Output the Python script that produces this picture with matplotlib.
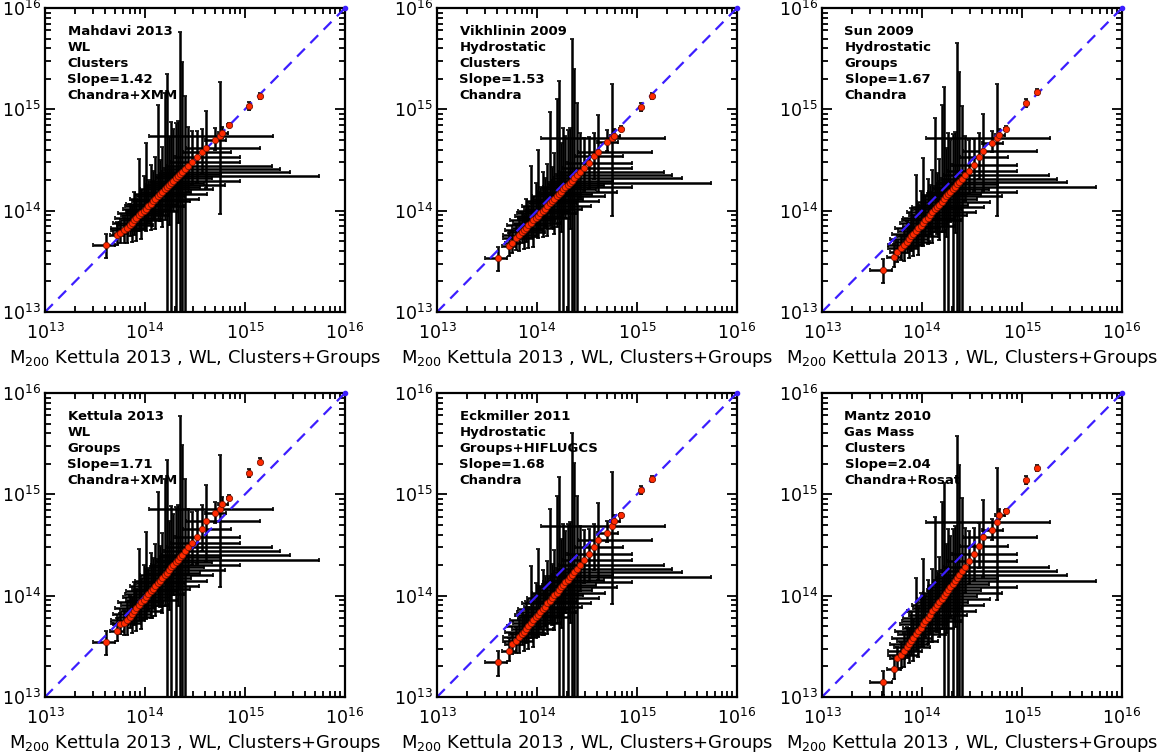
import numpy as np
import matplotlib
matplotlib.use("Agg")
import matplotlib.pyplot as plt
from matplotlib.ticker import LogLocator, LogFormatterMathtext, NullFormatter

# Kettula 2013 WL masses (units of 1e14 Msun), shared by every panel
m_wl = [0.41, 0.52, 0.56,
        0.62, 0.66, 0.70, 0.74, 0.78, 0.82, 0.87, 0.92, 0.97, 1.02,
        1.08, 1.14, 1.20, 1.27, 1.34, 1.41, 1.49, 1.57, 1.65, 1.74,
        1.83, 1.92, 2.02, 2.12, 2.23, 2.35, 2.50, 2.70, 2.95, 3.30,
        3.70, 4.10, 5.00, 5.60, 5.90, 6.90, 11.0, 14.0]
m_wl_lo = [0.11, 0.07, 0.08,
           0.16, 0.20, 0.18, 0.26, 0.22, 0.32, 0.30, 0.38, 0.33, 0.42,
           0.45, 0.50, 0.46, 0.56, 0.52, 0.62, 0.58, 0.68, 0.62, 0.72,
           0.70, 0.78, 0.74, 0.80, 0.85, 0.86, 0.95, 1.05, 1.15, 1.30,
           1.30, 1.50, 1.00, 4.50, 0.50, 0.30, 0.20, 0.20]
m_wl_hi = [0.09, 0.10, 0.12,
           0.30, 0.35, 0.50, 0.40, 0.65, 0.45, 0.85, 0.60, 1.10, 0.75,
           1.40, 0.95, 1.60, 2.20, 1.20, 2.80, 1.40, 3.20, 1.90, 4.50,
           2.10, 7.00, 2.70, 53.0, 3.50, 26.0, 20.0, 16.0, 6.00, 5.70,
           3.50, 10.0, 1.50, 13.4, 0.80, 0.30, 0.20, 0.20]
# relative y uncertainties (lower, upper)
yrel_lo = [0.26, 0.20, 0.20,
           0.25, 0.30, 0.22, 0.35, 0.28, 0.40, 0.30, 0.45, 0.35, 0.40,
           0.30, 0.45, 0.35, 0.50, 0.40, 0.45, 0.55, 0.50, 0.97, 0.60,
           0.97, 0.50, 0.97, 0.65, 0.97, 0.97, 0.97, 0.45, 0.40, 0.45,
           0.40, 0.60, 0.20, 0.83, 0.10, 0.05, 0.08, 0.06]
yrel_hi = [0.28, 0.35, 0.30,
           0.35, 0.50, 0.60, 0.45, 0.90, 0.55, 2.60, 0.70, 1.20, 3.40,
           0.80, 1.40, 1.00, 1.60, 7.00, 1.20, 1.80, 8.00, 12.0, 2.00,
           3.00, 2.20, 2.50, 2.50, 24.0, 11.0, 4.20, 1.40, 1.00, 0.80,
           0.70, 1.30, 0.30, 2.40, 0.15, 0.05, 0.10, 0.08]

# predicted masses from each scaling relation (units of 1e14 Msun)
m_mahdavi = [0.46, 0.57, 0.60,
             0.64, 0.68, 0.72, 0.76, 0.80, 0.84, 0.90, 0.95, 1.00, 1.05,
             1.11, 1.17, 1.24, 1.31, 1.38, 1.45, 1.53, 1.62, 1.70, 1.79,
             1.88, 1.98, 2.08, 2.18, 2.30, 2.42, 2.58, 2.78, 3.04, 3.40,
             3.80, 4.20, 5.00, 5.50, 5.80, 7.00, 10.7, 13.5]
m_vikhlinin = [0.345, 0.45, 0.48,
               0.54, 0.57, 0.61, 0.645, 0.68, 0.72, 0.76, 0.805, 0.85, 0.895,
               0.95, 1.00, 1.05, 1.12, 1.18, 1.24, 1.31, 1.39, 1.46, 1.54,
               1.62, 1.70, 1.79, 1.88, 1.98, 2.09, 2.23, 2.41, 2.63, 2.96,
               3.45, 3.80, 4.80, 5.25, 5.50, 6.45, 10.5, 13.5]
m_sun = [0.26, 0.35, 0.39,
         0.43, 0.46, 0.49, 0.525, 0.56, 0.59, 0.63, 0.67, 0.71, 0.755,
         0.80, 0.855, 0.905, 0.965, 1.03, 1.08, 1.15, 1.22, 1.29, 1.38,
         1.45, 1.54, 1.63, 1.72, 1.82, 1.93, 2.07, 2.25, 2.49, 2.83,
         3.40, 3.90, 4.70, 5.25, 5.60, 6.45, 11.5, 14.8]
m_kettula = [0.35, 0.45, 0.52,
             0.54, 0.58, 0.62, 0.665, 0.71, 0.75, 0.80, 0.86, 0.91, 0.97,
             1.03, 1.10, 1.17, 1.25, 1.33, 1.41, 1.50, 1.59, 1.69, 1.80,
             1.90, 2.01, 2.13, 2.26, 2.39, 2.54, 2.73, 2.99, 3.31, 3.77,
             4.60, 5.40, 6.50, 7.20, 8.10, 9.30, 16.2, 21.0]
m_eckmiller = [0.22, 0.285, 0.33,
               0.36, 0.39, 0.42, 0.44, 0.47, 0.50, 0.54, 0.57, 0.61, 0.65,
               0.69, 0.74, 0.78, 0.84, 0.89, 0.94, 1.01, 1.07, 1.13, 1.21,
               1.28, 1.35, 1.44, 1.52, 1.61, 1.71, 1.84, 2.02, 2.24, 2.55,
               3.00, 3.55, 4.20, 4.90, 5.40, 6.20, 11.0, 14.1]
m_mantz = [0.14, 0.19, 0.24,
           0.26, 0.285, 0.31, 0.33, 0.36, 0.38, 0.415, 0.45, 0.48, 0.52,
           0.56, 0.60, 0.64, 0.70, 0.75, 0.80, 0.86, 0.93, 0.99, 1.07,
           1.14, 1.22, 1.31, 1.40, 1.50, 1.61, 1.75, 1.94, 2.19, 2.56,
           3.10, 3.80, 4.40, 5.30, 6.30, 6.90, 13.8, 18.2]

studies = ["Mahdavi 2013", "Vikhlinin 2009", "Sun 2009",
           "Kettula 2013", "Eckmiller 2011", "Mantz 2010"]
methods = ["WL", "Hydrostatic", "Hydrostatic", "WL", "Hydrostatic", "Gas Mass"]
samples = ["Clusters", "Clusters", "Groups", "Groups", "Groups+HIFLUGCS", "Clusters"]
slopes = ["1.42", "1.53", "1.67", "1.71", "1.68", "2.04"]
instruments = ["Chandra+XMM", "Chandra", "Chandra", "Chandra+XMM", "Chandra", "Chandra+Rosat"]
panel_y = [m_mahdavi, m_vikhlinin, m_sun, m_kettula, m_eckmiller, m_mantz]

plt.rcParams["mathtext.default"] = "regular"
plt.rcParams["font.family"] = "DejaVu Sans"

W, H = 1169, 753
fig = plt.figure(figsize=(W / 100, H / 100), dpi=100)

col_left = [45, 437, 822]
row_top = [8, 393]
ax_w, ax_h = 300, 304

unit = 1e14
x = np.array(m_wl) * unit
xerr = [np.array(m_wl_lo) * unit, np.array(m_wl_hi) * unit]

for k in range(6):
    r, c = divmod(k, 3)
    left = col_left[c] / W
    bottom = 1 - (row_top[r] + ax_h) / H
    ax = fig.add_axes([left, bottom, ax_w / W, ax_h / H])
    ax.set_xscale("log")
    ax.set_yscale("log")

    y = np.array(panel_y[k]) * unit
    yerr = [y * np.array(yrel_lo), y * np.array(yrel_hi)]

    ax.errorbar(x, y, xerr=xerr, yerr=yerr, fmt="none", ecolor="black",
                elinewidth=1.8, capsize=1.5, capthick=1.2, zorder=1)
    ax.plot([1e13, 1e16], [1e13, 1e16], color="#3c1eff", lw=1.6,
            dashes=(5, 3.5), zorder=2)
    ax.plot(x, y, "o", ms=4.5, mfc="#ff2a00", mec="#7a1200", mew=0.6, zorder=3)
    ax.plot([1e16], [1e16], "o", ms=3, color="#3c1eff", clip_on=False, zorder=4)

    ax.set_xlim(1e13, 1e16)
    ax.set_ylim(1e13, 1e16)
    for axis in (ax.xaxis, ax.yaxis):
        axis.set_major_locator(LogLocator(base=10, numticks=10))
        axis.set_minor_locator(LogLocator(base=10, subs=np.arange(2, 10), numticks=10))
        axis.set_major_formatter(LogFormatterMathtext())
        axis.set_minor_formatter(NullFormatter())
    ax.tick_params(which="both", direction="in", top=True, right=True,
                   width=1.3, labelsize=12.5)
    ax.tick_params(which="major", length=7)
    ax.tick_params(which="minor", length=4)
    ax.tick_params(axis="x", pad=8)
    ax.tick_params(axis="y", pad=3)
    for sp in ax.spines.values():
        sp.set_linewidth(1.6)

    ax.set_xlabel("M$_{200}$ Kettula 2013 , WL, Clusters+Groups", fontsize=13,
                  labelpad=3)

    note = "\n".join([studies[k], methods[k], samples[k],
                      "Slope=" + slopes[k], instruments[k]])
    ax.text(0.075, 0.945, note, transform=ax.transAxes, ha="left", va="top",
            fontsize=9.5, fontweight="bold", linespacing=1.3)

fig.savefig("out.png", dpi=100)
